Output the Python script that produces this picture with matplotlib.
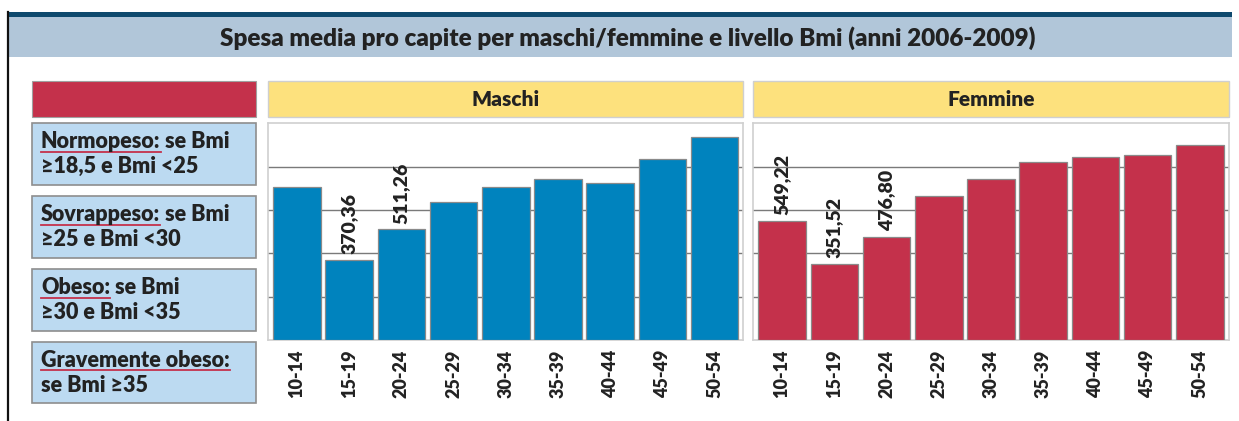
import matplotlib
matplotlib.use('Agg')
import matplotlib.pyplot as plt
from matplotlib.patches import Rectangle
from matplotlib.lines import Line2D

plt.rcParams['font.family'] = ['Lato', 'DejaVu Sans']

# ---------------- data ----------------
age_groups = ['10-14', '15-19', '20-24', '25-29', '30-34', '35-39', '40-44', '45-49', '50-54']
maschi = [705, 370.36, 511.26, 635, 705, 743, 723, 837, 938]
femmine = [549.22, 351.52, 476.80, 666, 743, 820, 845, 852, 900]
maschi_labels = ['', '370,36', '511,26', '', '', '', '', '', '']
femmine_labels = ['549,22', '351,52', '476,80', '', '', '', '', '', '']
panel_titles = ['Maschi', 'Femmine']
title = 'Spesa media pro capite per maschi/femmine e livello Bmi (anni 2006-2009)'
legend_heads = ['Normopeso:', 'Sovrappeso:', 'Obeso:', 'Gravemente obeso:']
legend_tails = [' se Bmi', ' se Bmi', ' se Bmi', '']
legend_second = ['≥18,5 e Bmi <25', '≥25 e Bmi <30', '≥30 e Bmi <35', 'se Bmi ≥35']

# ---------------- colours ----------------
BLUE = '#0083be'
RED = '#c4314b'
YELLOW = '#fde17d'
LIGHTBLUE = '#bcdaf1'
BAND = '#b1c6d9'
DARK = '#0e4a6e'
TXT = '#222222'
WEIGHT = 'heavy'

W, H = 1239, 421
fig = plt.figure(figsize=(W / 100, H / 100), dpi=100)
fig.patch.set_facecolor('white')

bg = fig.add_axes([0, 0, 1, 1], zorder=0)
bg.set_xlim(0, W)
bg.set_ylim(H, 0)
bg.axis('off')


def rect(x0, y0, x1, y1, fc, ec='none', lw=0):
    bg.add_patch(Rectangle((x0, y0), x1 - x0, y1 - y0, facecolor=fc, edgecolor=ec, linewidth=lw))


# top dark line and title band
rect(7, 11.5, 1232, 16.5, DARK)
rect(7, 16.5, 1232, 56.5, BAND)
bg.add_line(Line2D([8, 8], [11.5, 421], color='#111111', lw=1.6))
bg.text(628, 38, title, ha='center', va='center', fontsize=17.5, fontweight=WEIGHT, color=TXT)

# header row
rect(31.7, 81, 256, 116.5, RED, '#a0a0a0', 0.8)
rect(268.3, 81, 743.3, 116.5, YELLOW, '#cfcfcf', 1.0)
rect(753.3, 81, 1228.7, 116.5, YELLOW, '#cfcfcf', 1.0)
bg.text((268.3 + 743.3) / 2, 99, panel_titles[0], ha='center', va='center', fontsize=15, fontweight=WEIGHT, color=TXT)
bg.text((753.3 + 1228.7) / 2, 99, panel_titles[1], ha='center', va='center', fontsize=15, fontweight=WEIGHT, color=TXT)

# legend boxes
box_tops = [123.3, 196, 269, 341.7]
box_h = 61.7
fig.canvas.draw()
renderer = fig.canvas.get_renderer()
for top, head, tail, second in zip(box_tops, legend_heads, legend_tails, legend_second):
    rect(31.7, top, 256, top + box_h, LIGHTBLUE, '#8e8e8e', 1.2)
    x0 = 41
    b1 = top + 25
    t = bg.text(x0, b1, head, ha='left', va='baseline', fontsize=15.5, fontweight=WEIGHT, color=TXT)
    ext = t.get_window_extent(renderer=renderer)
    x1 = ext.x1
    bg.add_line(Line2D([x0, x1], [b1 + 3.5, b1 + 3.5], color=RED, lw=1.3))
    if tail:
        bg.text(x1, b1, tail, ha='left', va='baseline', fontsize=15.5, fontweight=WEIGHT, color=TXT)
    bg.text(x0, b1 + 25, second, ha='left', va='baseline', fontsize=15.5, fontweight=WEIGHT, color=TXT)


def panel(left, right, vals, labels, color):
    ax = fig.add_axes([left / W, 1 - 340 / H, (right - left) / W, (340 - 123.3) / H], zorder=2)
    x = list(range(len(age_groups)))
    ax.bar(x, vals, width=0.91, color=color, edgecolor='#8a8a8a', linewidth=0.9, zorder=3)
    ax.set_xlim(-0.55, len(age_groups) - 0.45)
    ax.set_ylim(0, 1000)
    ax.set_yticks([200, 400, 600, 800])
    ax.yaxis.grid(True, color='#7a7a7a', linewidth=1.0, zorder=1)
    ax.set_axisbelow(True)
    ax.tick_params(axis='y', length=0, labelleft=False)
    ax.set_xticks(x)
    ax.set_xticklabels(age_groups, rotation=90, fontsize=13, fontweight=WEIGHT, color=TXT)
    ax.tick_params(axis='x', length=0, pad=7)
    for s in ax.spines.values():
        s.set_color('#d0d0d0')
        s.set_linewidth(1.2)
    for i, (v, lab) in enumerate(zip(vals, labels)):
        if lab:
            ax.annotate(lab, (i, v), xytext=(0, 4), textcoords='offset points', rotation=90,
                        ha='center', va='bottom', fontsize=14, fontweight=WEIGHT, color=TXT)
    return ax


panel(268.3, 743.3, maschi, maschi_labels, BLUE)
panel(753.3, 1228.7, femmine, femmine_labels, RED)

fig.savefig('out.png', dpi=100)
